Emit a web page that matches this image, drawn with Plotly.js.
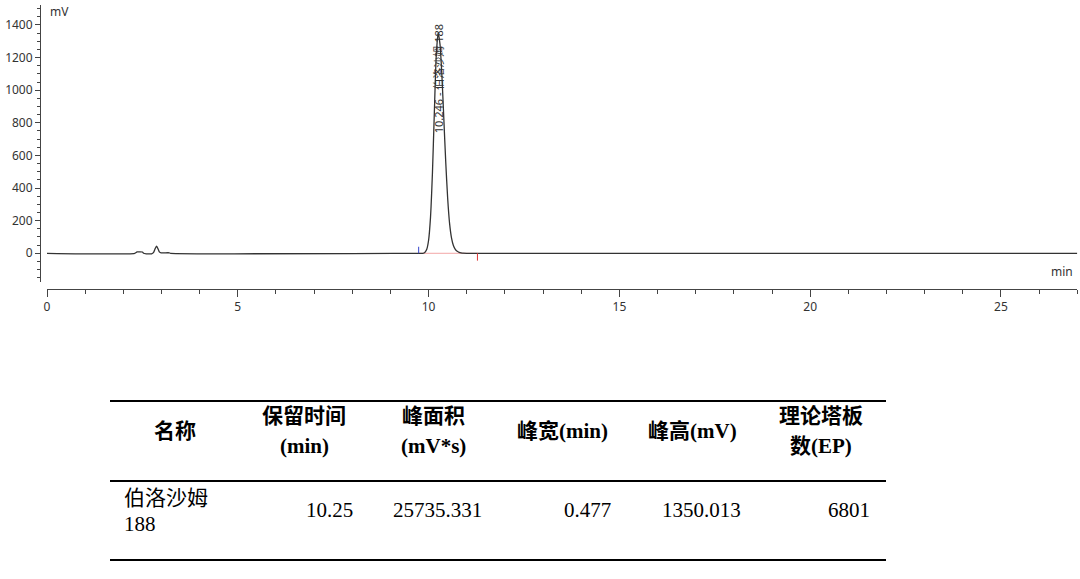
<!DOCTYPE html>
<html>
<head>
<meta charset="utf-8">
<script src="https://cdn.plot.ly/plotly-3.0.1.min.js"></script>
<style>html,body{margin:0;padding:0;background:#fff;}#chart{width:1080px;height:579px;}</style>
</head>
<body>
<div id="chart"></div>
<script>
// ---- chromatogram data (time in min, signal in mV) ----
const timeMin = [0, 2.30, 2.36, 2.50, 2.53, 2.60, 2.74, 2.79, 2.83, 2.87, 2.91, 2.95, 2.99, 3.20, 3.24, 9.70,
  9.85, 9.90, 9.95, 10.00, 10.05, 10.10, 10.15, 10.20, 10.25,
  10.30, 10.35, 10.40, 10.45, 10.50, 10.55, 10.60, 10.65, 10.70, 10.75, 10.80, 10.85, 10.90, 11.00, 12.0, 27.0];
const signalMV = [0, 0, 8, 8, 0, -3, -3, 4, 26, 44, 27, 7, 3, 3, 0, 0,
  0, 5, 23, 80, 220, 487, 859, 1207, 1352,
  1279, 1083, 820, 556, 337, 183, 95, 48, 24, 12, 6, 3, 1, 0, 0, 0];

// peak info
const peakTime = 10.246;
const peakLabel = "10.246 - 伯洛沙姆 188";
const peakStart = 9.74;
const peakEnd = 11.28;

// axis ticks
const xTickVals = [0, 5, 10, 15, 20, 25];
const yTickVals = [0, 200, 400, 600, 800, 1000, 1200, 1400];

// ---- results table ----
const headerLine1 = ["名称", "保留时间", "峰面积", "峰宽(min)", "峰高(mV)", "理论塔板"];
const headerLine2 = ["", "(min)", "(mV*s)", "", "", "数(EP)"];
const rowName = ["伯洛沙姆", "188"];
const rowValues = ["10.25", "25735.331", "0.477", "1350.013", "6801"];

const W = 1080, H = 579;
const px = x => x / W;
const py = y => (H - y) / H;

const axisFont = {family: "Noto Sans, Liberation Sans, sans-serif", size: 12, color: "#333"};

const trace = {
  x: timeMin, y: signalMV, type: "scatter", mode: "lines",
  line: {color: "#333333", width: 1.3, shape: "spline", smoothing: 0.6},
  hoverinfo: "skip", showlegend: false
};

const annotations = [];
// axis unit labels
annotations.push({xref: "paper", yref: "paper", x: px(48), y: py(12), text: "mV", showarrow: false,
  xanchor: "left", yanchor: "middle", font: axisFont});
annotations.push({xref: "paper", yref: "paper", x: px(1075), y: py(271), text: "min", showarrow: false,
  xanchor: "right", yanchor: "middle", font: axisFont});
// peak label
annotations.push({xref: "x", yref: "y", x: peakTime, y: 726, text: peakLabel, textangle: -90,
  showarrow: false, xanchor: "center", yanchor: "bottom",
  font: {family: "Noto Sans, Noto Sans CJK SC, sans-serif", size: 11, color: "#333"}});

// table
const tblLeft = 110, tblRight = 886;
const colW = (tblRight - tblLeft) / headerLine1.length;
const serif = "Liberation Serif, Noto Sans CJK SC, serif";
headerLine1.forEach((h, i) => {
  const cx = tblLeft + colW * (i + 0.5);
  const two = headerLine2[i] !== "";
  annotations.push({xref: "paper", yref: "paper", x: px(cx), y: py(two ? 416 : 431), text: "<b>" + h + "</b>",
    showarrow: false, xanchor: "center", yanchor: "middle", font: {family: serif, size: 21, color: "#000"}});
  if (two) {
    annotations.push({xref: "paper", yref: "paper", x: px(cx), y: py(446), text: "<b>" + headerLine2[i] + "</b>",
      showarrow: false, xanchor: "center", yanchor: "middle", font: {family: serif, size: 21, color: "#000"}});
  }
});
rowName.forEach((t, j) => {
  annotations.push({xref: "paper", yref: "paper", x: px(tblLeft + 12), y: py(498 + 26 * j), text: t,
    showarrow: false, xanchor: "left", yanchor: "middle", font: {family: serif, size: 21, color: "#000"}});
});
rowValues.forEach((v, i) => {
  const rx = tblLeft + colW * (i + 2) - 14;
  annotations.push({xref: "paper", yref: "paper", x: px(rx), y: py(510), text: v,
    showarrow: false, xanchor: "right", yanchor: "middle", font: {family: serif, size: 21, color: "#000"}});
});

const shapes = [];
[401, 481, 560].forEach(y => {
  shapes.push({type: "line", xref: "paper", yref: "paper", x0: px(tblLeft), x1: px(tblRight), y0: py(y), y1: py(y),
    line: {color: "#000", width: 2}});
});
// peak baseline and start/end markers
shapes.push({type: "line", xref: "x", yref: "y", x0: peakStart, x1: peakEnd, y0: 0, y1: 0,
  line: {color: "#f2a6a6", width: 1}, layer: "below"});
shapes.push({type: "line", xref: "x", yref: "y", x0: peakStart, x1: peakStart, y0: 0, y1: 40,
  line: {color: "#3344cc", width: 1}});
shapes.push({type: "line", xref: "x", yref: "y", x0: peakEnd, x1: peakEnd, y0: 0, y1: -45,
  line: {color: "#dd3333", width: 1}});

const layout = {
  width: W, height: H,
  margin: {l: 0, r: 0, t: 0, b: 0},
  paper_bgcolor: "#fff", plot_bgcolor: "rgba(0,0,0,0)",
  showlegend: false,
  xaxis: {
    domain: [px(47), px(1077.3)], range: [0, 27], anchor: "free", position: py(288.5),
    showline: true, linecolor: "#444", linewidth: 1, showgrid: false, zeroline: false,
    tickvals: xTickVals, ticks: "outside", ticklen: 7, tickcolor: "#444", tickwidth: 1,
    tickfont: axisFont,
    minor: {dtick: 1, ticks: "outside", ticklen: 4, tickcolor: "#444", showgrid: false}
  },
  yaxis: {
    domain: [py(282), py(5)], range: [-176, 1522], anchor: "free", position: px(40),
    showline: true, linecolor: "#444", linewidth: 1, showgrid: false, zeroline: false,
    tickvals: yTickVals, ticks: "outside", ticklen: 5, tickcolor: "#444", tickwidth: 1,
    tickfont: axisFont,
    minor: {dtick: 50, ticks: "outside", ticklen: 3, tickcolor: "#444", showgrid: false}
  },
  annotations: annotations,
  shapes: shapes
};

Plotly.newPlot("chart", [trace], layout, {staticPlot: true, displayModeBar: false});
</script>
</body>
</html>
